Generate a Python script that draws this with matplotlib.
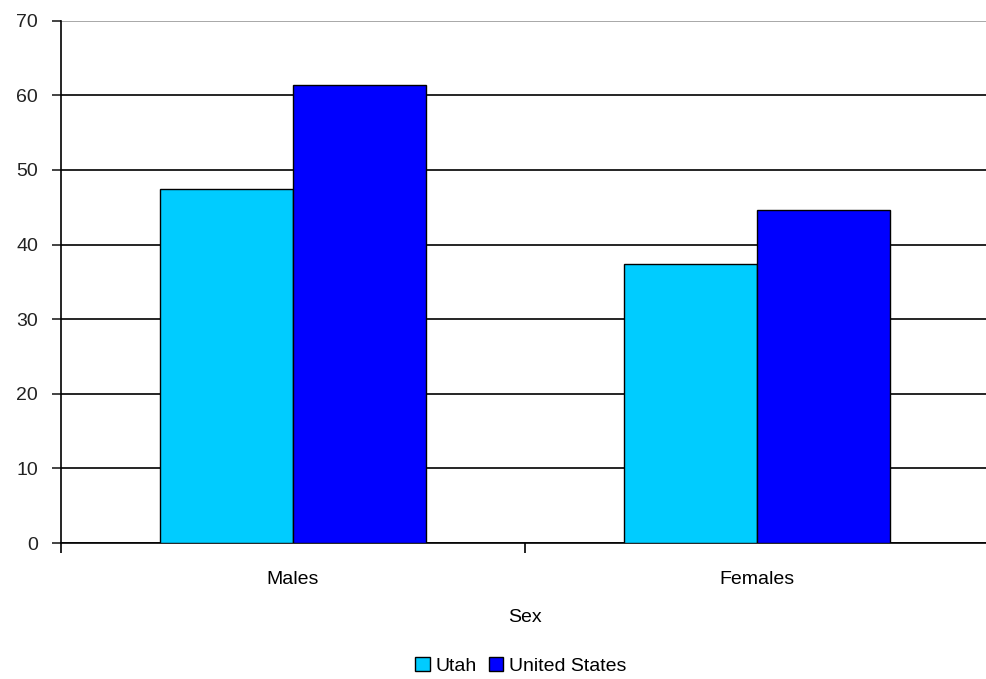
import matplotlib.pyplot as plt
import numpy as np

plt.rcParams['font.family'] = ['Liberation Sans', 'DejaVu Sans']

categories = ['Males', 'Females']
series_names = ['Utah', 'United States']
utah = [47.5, 37.4]
united_states = [61.4, 44.6]
colors = ['#00CCFF', '#0000FF']

fig = plt.figure(figsize=(9.86, 6.79), dpi=100)
ax = fig.add_axes([61 / 986, 1 - 543 / 679, 928 / 986, (543 - 20.7) / 679])

x = np.arange(len(categories))
w = 1 / 3.5
b1 = ax.bar(x - w / 2, utah, w, color=colors[0], edgecolor='black', linewidth=1, label=series_names[0], zorder=3)
b2 = ax.bar(x + w / 2, united_states, w, color=colors[1], edgecolor='black', linewidth=1, label=series_names[1], zorder=3)

ax.set_xlim(-0.5, 1.5)
ax.set_ylim(0, 70)
ax.set_yticks(range(0, 71, 10))
ax.set_xticks([0, 1])
ax.set_xticklabels(categories)
ax.set_xticks([-0.5, 0.5, 1.5], minor=True)
ax.tick_params(axis='x', which='major', length=0, pad=20, labelsize=14)
ax.tick_params(axis='x', which='minor', length=7, width=1.2, direction='out')
ax.tick_params(axis='y', length=6.5, width=1.2, labelsize=14, pad=10, colors='#222222')

ax.grid(axis='y', color='black', linewidth=1.2, zorder=0)
ax.set_axisbelow(True)
ax.get_ygridlines()[-1].set_color('#999999')

for s in ['top', 'right']:
    ax.spines[s].set_visible(False)
ax.spines['left'].set_linewidth(1.2)
ax.spines['bottom'].set_linewidth(1.2)

ax.set_xlabel('Sex', fontsize=14, labelpad=15)

fig.legend(handles=[b1, b2], labels=series_names, loc='center', bbox_to_anchor=(521 / 986, 1 - 666 / 679),
           ncol=2, frameon=False, fontsize=14, handlelength=0.75, handleheight=0.75,
           handletextpad=0.3, columnspacing=0.6)

fig.savefig('out.png', dpi=100)
